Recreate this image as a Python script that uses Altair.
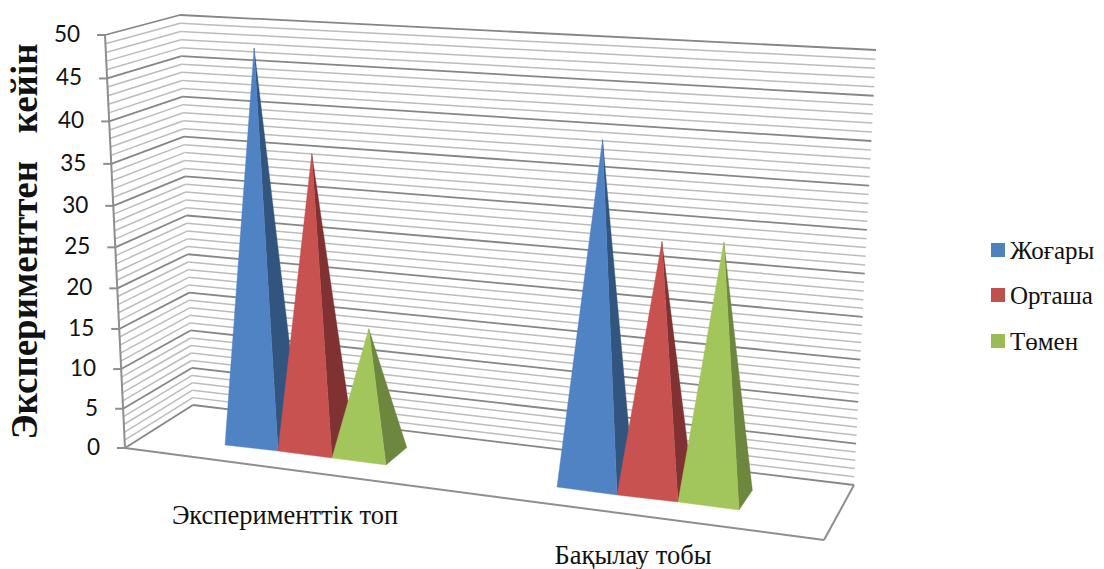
import numpy as np
import pandas as pd
import altair as alt

categories = ["Эксперименттік топ", "Бақылау тобы"]
series = ["Жоғары", "Орташа", "Төмен"]
high = [48, 40]
medium = [36, 29]
low = [15.5, 29.5]
y_ticks = [0, 5, 10, 15, 20, 25, 30, 35, 40, 45, 50]
y_title = "Эксперименттен\u00a0\u00a0\u00a0кейін"

front_colors = ["#5083C4", "#C85250", "#A3C65C"]
side_colors = ["#32557F", "#7F3231", "#6E873F"]
legend_colors = ["#4F81BD", "#C0504D", "#9BBB59"]
GRID_MINOR = "#BCBCBC"
GRID_MAJOR = "#868686"
AXIS = "#8E8E8E"

# Projection of the chart's 3D box on the page (front-left, front-right, back-right, back-left)
FLOOR = [(125, 448), (824, 540), (854, 485), (193, 405)]
TOP = [(105, 35), (841, 75), (876, 50), (180, 15)]
K = 0.945


def homography(pts):
    src = [(0, 0), (1, 0), (1, 1), (0, 1)]
    A, b = [], []
    for (u, v), (x, y) in zip(src, pts):
        A.append([u, v, 1, 0, 0, 0, -u * x, -v * x])
        A.append([0, 0, 0, u, v, 1, -u * y, -v * y])
        b += [x, y]
    return np.append(np.linalg.solve(np.array(A, float), np.array(b, float)), 1).reshape(3, 3)


HF, HT = homography(FLOOR), homography(TOP)
HFI = np.linalg.inv(HF)


def apply(H, u, v):
    p = H @ np.array([u, v, 1.0])
    return p[:2] / p[2]


def project(u, z, value):
    t = value / 50
    f = t * K / (1 + (K - 1) * t)
    return (1 - f) * apply(HF, u, z) + f * apply(HT, u, z)


def on_floor(px, py):
    return apply(HFI, px, py)


X = alt.X("x:Q", scale=alt.Scale(domain=[8, 1096]), axis=None)
Y = alt.Y("y:Q", scale=alt.Scale(domain=[569, 8]), axis=None)
X2, Y2 = alt.X2("x2:Q"), alt.Y2("y2:Q")

# gridlines on left and back walls
segments = {True: [], False: []}
for v in range(0, 51):
    major = v % 5 == 0
    a, b, c = project(0, 0, v), project(0, 1, v), project(1, 1, v)
    segments[major].append(dict(x=a[0], y=a[1], x2=b[0], y2=b[1]))
    segments[major].append(dict(x=b[0], y=b[1], x2=c[0], y2=c[1]))

layers = [
    alt.Chart(pd.DataFrame(segments[False])).mark_rule(color=GRID_MINOR, strokeWidth=1.5).encode(x=X, y=Y, x2=X2, y2=Y2),
    alt.Chart(pd.DataFrame(segments[True])).mark_rule(color=GRID_MAJOR, strokeWidth=1.8).encode(x=X, y=Y, x2=X2, y2=Y2),
]

# floor edges, value axis and ticks
fl, fr, br = project(0, 0, 0), project(1, 0, 0), project(1, 1, 0)
top = project(0, 0, 50)
axis_rows = [
    dict(x=fl[0], y=fl[1], x2=fr[0], y2=fr[1]),
    dict(x=fr[0], y=fr[1], x2=br[0], y2=br[1]),
    dict(x=fl[0], y=fl[1], x2=top[0], y2=top[1]),
]
label_rows = []
for v in y_ticks:
    p = project(0, 0, v)
    axis_rows.append(dict(x=p[0] - 8, y=p[1], x2=p[0], y2=p[1]))
    label_rows.append(dict(x=p[0] - 25, y=p[1], text=str(v)))
layers.append(alt.Chart(pd.DataFrame(axis_rows)).mark_rule(color=AXIS, strokeWidth=2).encode(x=X, y=Y, x2=X2, y2=Y2))
layers.append(
    alt.Chart(pd.DataFrame(label_rows))
    .mark_text(align="right", baseline="middle", font="Lato", fontSize=22.5, color="#111111")
    .encode(x=X, y=Y, text="text:N")
)

# pyramids
front_px = [[(225, 445), (278, 451), (332, 458), (386, 465)], [(557, 487), (617, 495), (678, 502), (739, 510)]]
DEPTH = 0.37
values = [high, medium, low]


def face(points, color):
    rows = [dict(x=p[0], y=p[1], i=i) for i, p in enumerate(points + points[:1])]
    return (
        alt.Chart(pd.DataFrame(rows))
        .mark_line(fill=color, stroke=color, strokeWidth=0.4)
        .encode(x=X, y=Y, order="i:Q")
    )


for g, corners in enumerate(front_px):
    for s in range(3):
        u0, z0 = on_floor(*corners[s])
        u1, z1 = on_floor(*corners[s + 1])
        zb = (z0 + z1) / 2 + DEPTH
        apex = project((u0 + u1) / 2, (z0 + z1) / 2 + DEPTH / 2, values[s][g])
        a, b, c = project(u0, z0, 0), project(u1, z1, 0), project(u1, zb, 0)
        layers.append(face([b, c, apex], side_colors[s]))
        layers.append(face([a, b, apex], front_colors[s]))

# category labels
cat_df = pd.DataFrame(dict(x=[285, 633], y=[516, 556], text=categories))
layers.append(
    alt.Chart(cat_df)
    .mark_text(align="center", baseline="middle", font="Liberation Serif", fontSize=26.5, color="#111111")
    .encode(x=X, y=Y, text="text:N")
)

# legend
leg_sq = pd.DataFrame(dict(x=[991, 991, 991], x2=[1005, 1005, 1005], y=[243, 288, 334], y2=[257, 302, 348], s=series))
layers.append(
    alt.Chart(leg_sq)
    .mark_rect()
    .encode(x=X, x2=X2, y=Y, y2=Y2, color=alt.Color("s:N", scale=alt.Scale(domain=series, range=legend_colors), legend=None))
)
leg_txt = pd.DataFrame(dict(x=[1010, 1010, 1010], y=[251, 296, 342], text=series))
layers.append(
    alt.Chart(leg_txt)
    .mark_text(align="left", baseline="middle", font="Liberation Serif", fontSize=25, color="#111111")
    .encode(x=X, y=Y, text="text:N")
)

# value-axis title
layers.append(
    alt.Chart(pd.DataFrame(dict(x=[26], y=[241.5], text=[y_title])))
    .mark_text(align="center", baseline="middle", angle=270, font="Liberation Serif", fontSize=37, fontWeight="bold", color="#111111")
    .encode(x=X, y=Y, text="text:N")
)

chart = (
    alt.layer(*layers)
    .resolve_scale(color="independent")
    .properties(width=1088, height=561, padding=0, autosize=alt.AutoSizeParams(type="none"))
    .configure_view(stroke=None)
)
chart.save("out.html", embed_options={"renderer": "svg", "actions": False})
